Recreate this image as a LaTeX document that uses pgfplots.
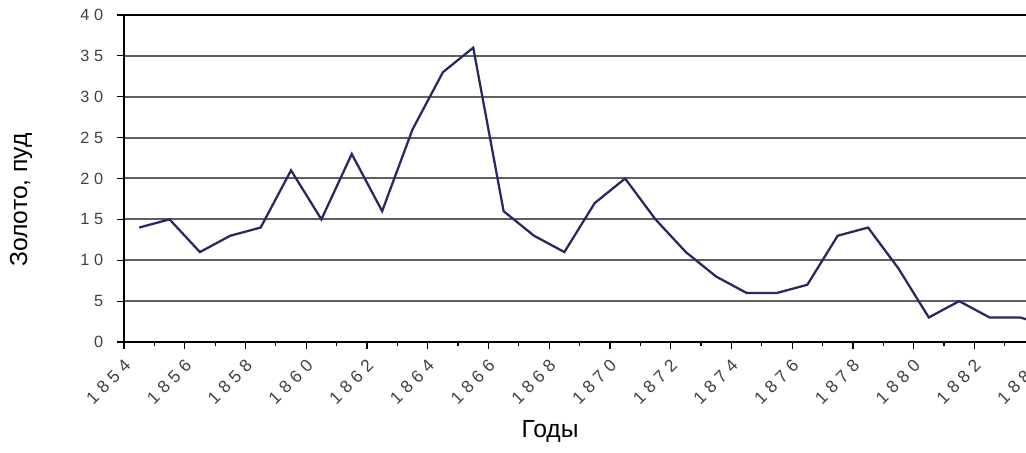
\documentclass[border=0pt]{standalone}
\usepackage{fontspec}
\setmainfont{Liberation Sans}
\newfontfamily\tickfont[LetterSpace=30]{Liberation Sans}
\usepackage{pgfplots}
\pgfplotsset{compat=1.18}
\definecolor{linenavy}{RGB}{40,40,98}
\definecolor{gridgray}{RGB}{95,95,95}
\begin{document}
\begin{tikzpicture}
\useasboundingbox (0,0) rectangle (769.5pt,339.75pt);
\clip (0,0) rectangle (769.5pt,339.75pt);
\begin{axis}[
  at={(93pt,83.25pt)}, anchor=south west,
  scale only axis,
  width=706.1pt, height=245.25pt,
  xmin=1854, xmax=1885,
  ymin=0, ymax=40,
  xtick={1854,1856,...,1884},
  minor xtick={1855,1857,...,1885},
  ytick={0,5,...,40},
  ymajorgrids,
  major grid style={gridgray, line width=1.5pt},
  axis line style={black, line width=2pt},
  tick align=outside,
  major tick length=5pt,
  minor tick length=3pt,
  tick style={black, line width=0.9pt},
  xtick pos=bottom, ytick pos=left,
  x tick label style={/pgf/number format/set thousands separator={}},
  /pgf/number format/assume math mode=true,
  tick label style={font={\fontsize{12.2}{14}\tickfont}, text=black!75},
  xticklabel style={font={\fontsize{13}{15}\tickfont}, rotate=45, anchor=north east, xshift=-2pt, yshift=-1pt},
  yticklabel style={xshift=-7pt},
  xlabel={Годы},
  ylabel={Золото, пуд},
  label style={font=\fontsize{18.5}{21}\selectfont},
  xlabel style={at={(axis description cs:0.4525,-0.275)}, anchor=center},
  ylabel style={at={(axis description cs:-0.1094,0.434)}, anchor=center},
]
\addplot[linenavy, line width=1.7pt] coordinates {
  (1854.5,14) (1855.5,15) (1856.5,11) (1857.5,13) (1858.5,14)
  (1859.5,21) (1860.5,15) (1861.5,23) (1862.5,16) (1863.5,26)
  (1864.5,33) (1865.5,36) (1866.5,16) (1867.5,13) (1868.5,11)
  (1869.5,17) (1870.5,20) (1871.5,15) (1872.5,11) (1873.5,8)
  (1874.5,6)  (1875.5,6)  (1876.5,7)  (1877.5,13) (1878.5,14)
  (1879.5,9)  (1880.5,3)  (1881.5,5)  (1882.5,3)  (1883.5,3)
  (1884.5,2)
};
\end{axis}
\end{tikzpicture}
\end{document}
